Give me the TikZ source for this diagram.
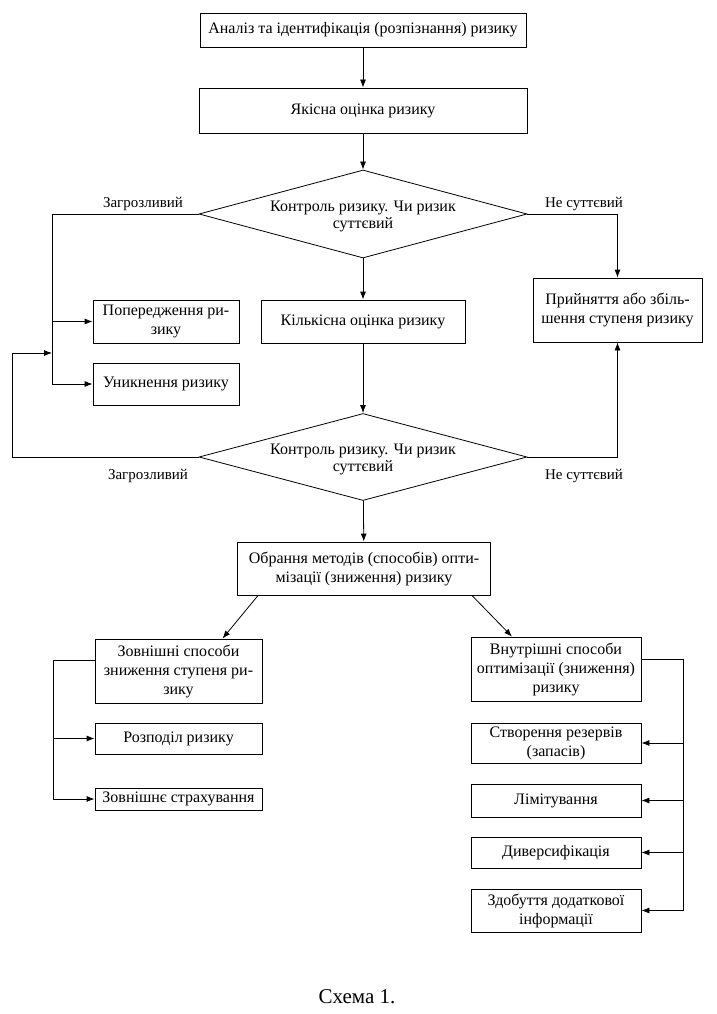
\documentclass[tikz,border=0pt]{standalone}
\usepackage{fontspec}
\setmainfont{Liberation Serif}
\usetikzlibrary{shapes.geometric,arrows.meta}
\begin{document}
\begin{tikzpicture}[x=1pt,y=-1pt,
 box/.style={draw, line width=0.8pt, align=center, inner sep=2pt, font=\fontsize{16}{19}\selectfont},
 dia/.style={draw, diamond, line width=0.8pt, inner sep=0pt, minimum width=328pt, minimum height=88pt},
 txt/.style={align=center, font=\fontsize{16}{17}\selectfont, inner sep=0pt},
 lab/.style={align=center, font=\fontsize{15}{17}\selectfont, inner sep=0pt},
 arr/.style={line width=0.8pt, -{Latex[length=8pt,width=6pt]}},
 ln/.style={line width=0.8pt}]
\useasboundingbox (0,0) rectangle (716,1014);
\fill[white] (0,0) rectangle (716,1014);

\node[box, minimum width=326pt, minimum height=34pt] (b1) at (363,30) {Аналіз та ідентифікація (розпізнання) ризику};
\node[box, minimum width=328pt, minimum height=45pt] (b2) at (363,110.5) {Якісна оцінка ризику};
\node[dia] (d1) at (363,214) {};
\node[txt] (d1t) at (363,216) {Контроль ризику. Чи ризик\\суттєвий};
\node[box, minimum width=204pt, minimum height=43pt] (kil) at (363,321.5) {Кількісна оцінка ризику};
\node[box, minimum width=146pt, minimum height=43pt] (pop) at (166,321.5) {Попередження ри-\\зику};
\node[box, minimum width=146pt, minimum height=42pt] (unyk) at (166,384) {Уникнення ризику};
\node[box, minimum width=169pt, minimum height=64pt] (pry) at (617.5,310) {Прийняття або збіль-\\шення ступеня ризику};
\node[dia, minimum height=87pt] (d2) at (363,457) {};
\node[txt] (d2t) at (363,459) {Контроль ризику. Чи ризик\\суттєвий};
\node[box, minimum width=253pt, minimum height=53pt] (obr) at (364,568.5) {Обрання методів (способів) опти-\\мізації (зниження) ризику};

\node[box, minimum width=167pt, minimum height=64pt] (zovn) at (178.5,671) {Зовнішні способи\\зниження ступеня ри-\\зику};
\node[box, minimum width=167pt, minimum height=31pt] (rozp) at (178.5,738.5) {Розподіл ризику};
\node[box, minimum width=167pt, minimum height=22pt, inner sep=1pt] (strakh) at (178.5,799) {Зовнішнє страхування};

\node[box, minimum width=170pt, minimum height=64pt] (vnut) at (556,669) {Внутрішні способи\\оптимізації (зниження)\\ризику};
\node[box, minimum width=170pt, minimum height=40pt] (stv) at (556,743) {Створення резервів\\(запасів)};
\node[box, minimum width=170pt, minimum height=33pt] (lim) at (556,800.5) {Лімітування};
\node[box, minimum width=170pt, minimum height=31pt] (dyv) at (556,852.5) {Диверсифікація};
\node[box, minimum width=170pt, minimum height=43pt] (zdob) at (556,910.5) {Здобуття додаткової\\інформації};

\node[lab] (lab1) at (143,204) {Загрозливий};
\node[lab] (lab2) at (584,204) {Не суттєвий};
\node[lab] (lab3) at (148,476) {Загрозливий};
\node[lab] (lab4) at (584,476) {Не суттєвий};

\node[txt, font=\fontsize{21}{23}\selectfont] (cap) at (357,997) {Схема 1.};

% main column
\draw[arr] (b1) -- (b2);
\draw[arr] (b2) -- (d1);
\draw[arr] (d1) -- (kil);
\draw[arr] (kil) -- (d2);
\draw[arr] (d2) -- (obr);

% upper left bus
\coordinate (ulx) at (52,0);
\draw[arr] (d1.west) -| (ulx |- unyk.west) -- (unyk.west);
\draw[arr] (ulx |- pop.west) -- (pop.west);
% feedback
\coordinate (fb) at (12,353);
\draw[arr] (d2.west) -| (fb) -- (ulx |- fb);
% right
\draw[arr] (d1.east) -| (pry.north);
\draw[arr] (d2.east) -| (pry.south);

% diagonals
\draw[arr] ([xshift=21pt]obr.south west) -- ([xshift=44pt]zovn.north);
\draw[arr] ([xshift=-19pt]obr.south east) -- ([xshift=-44pt]vnut.north);

% lower left bus
\coordinate (lbx) at (53,0);
\draw[arr] ([yshift=11pt]zovn.west) -| (lbx |- strakh.west) -- (strakh.west);
\draw[arr] (lbx |- rozp.west) -- (rozp.west);

% lower right bus
\coordinate (rbx) at (683,0);
\draw[arr] ([yshift=10pt]vnut.east) -| (rbx |- zdob.east) -- (zdob.east);
\draw[arr] (rbx |- stv.east) -- (stv.east);
\draw[arr] (rbx |- lim.east) -- (lim.east);
\draw[arr] (rbx |- dyv.east) -- (dyv.east);
\end{tikzpicture}
\end{document}
